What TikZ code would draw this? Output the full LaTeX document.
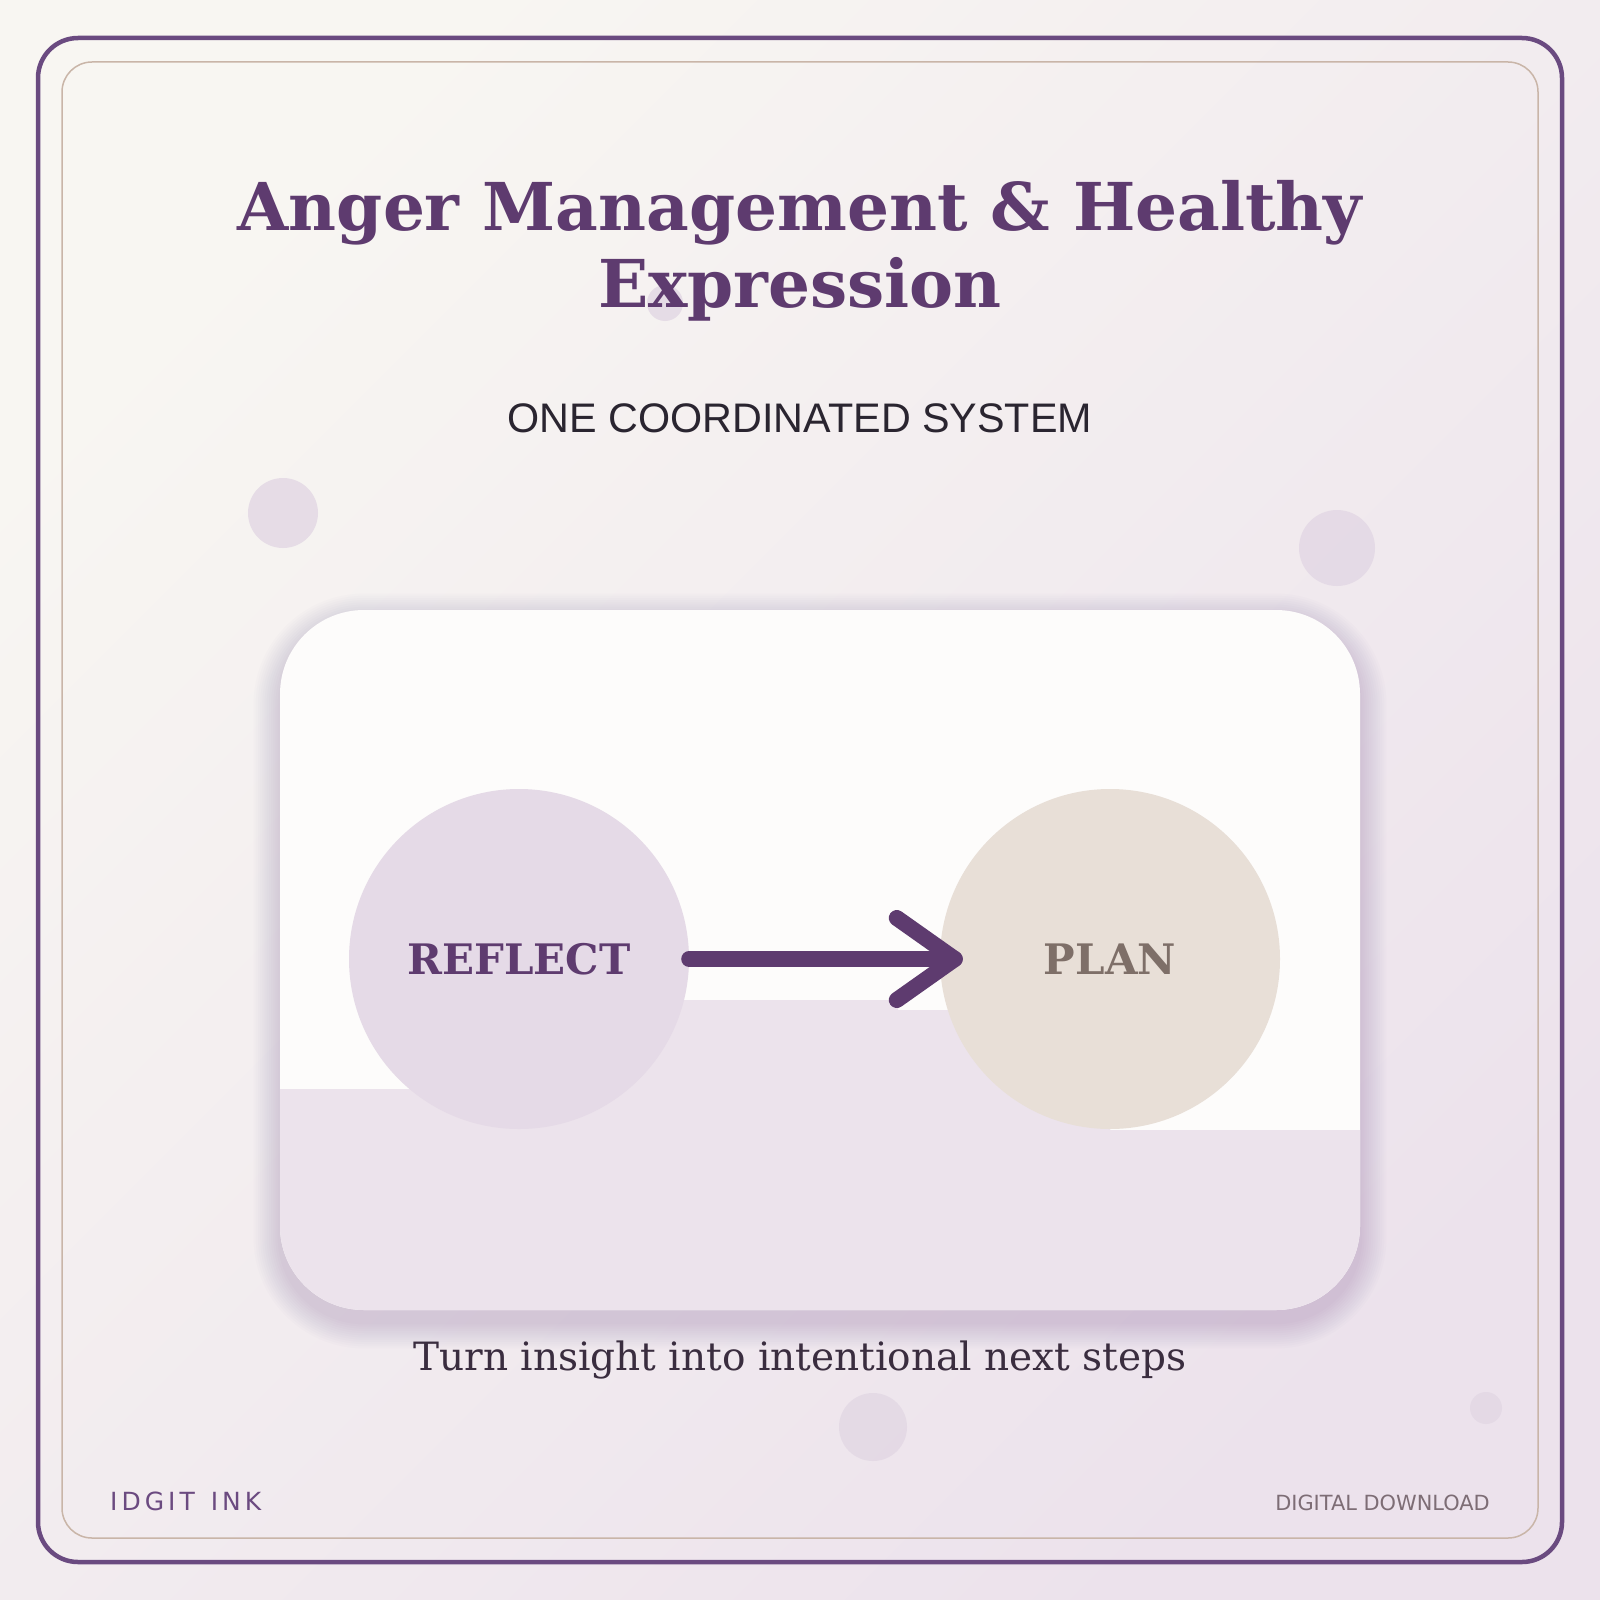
\documentclass[tikz,border=0pt]{standalone}
\usepackage{fontspec}
\setmainfont{DejaVu Serif}
\newfontfamily\dvsans{DejaVu Sans}
\newfontfamily\libsans{Liberation Sans}
\usetikzlibrary{calc}
\definecolor{bgA}{HTML}{F8F6F2}
\definecolor{bgB}{HTML}{ECE2EC}
\definecolor{outerc}{HTML}{6A4A80}
\definecolor{innerc}{HTML}{C9B5A8}
\definecolor{titlec}{HTML}{5E3B6F}
\definecolor{subc}{HTML}{2A2530}
\definecolor{dotc}{HTML}{E2D7E4}
\definecolor{cardc}{HTML}{FDFCFB}
\definecolor{bandc}{HTML}{ECE3EC}
\definecolor{reflc}{HTML}{E5DAE7}
\definecolor{planc}{HTML}{E8DFD7}
\definecolor{plantext}{HTML}{7E6F68}
\definecolor{capc}{HTML}{3A2D3F}
\definecolor{brandc}{HTML}{6B4A80}
\definecolor{dlc}{HTML}{7D6D75}
\definecolor{shadc}{HTML}{7A5A8C}
\tikzset{
  deco/.style={fill=dotc, opacity=0.8},
  stage/.style={circle, inner sep=0pt, minimum size=340pt, font=\bfseries\fontsize{42}{48}\selectfont},
  flow/.style={draw=titlec, line width=16pt, line cap=round, line join=round},
}
\begin{document}
\begin{tikzpicture}[x=1pt,y=-1pt]
\useasboundingbox (0,0) rectangle (1600,1600);
\shade[left color=bgA, right color=bgB, shading angle=45] (0,0) rectangle (1600,1600);
% frames
\draw[outerc, line width=4.5pt, rounded corners=40pt] (38,38) rectangle (1562,1562);
\draw[innerc, line width=1.5pt, rounded corners=30pt] (62,62) rectangle (1538,1538);
% decorative dots
\fill[deco] (665,303) circle (18);
\fill[deco] (283,513) circle (35);
\fill[deco] (1337,548) circle (38);
\fill[deco] (873,1427) circle (34);
\fill[deco] (1486,1408) circle (16);
% title
\node[anchor=base, text=titlec, font=\bfseries\fontsize{66}{79}\selectfont, inner sep=0] (t1) at (800,230) {Anger Management \& Healthy};
\node[anchor=base, text=titlec, font=\bfseries\fontsize{66}{79}\selectfont, inner sep=0] (t2) at (800,307) {Expression};
\node[anchor=base, text=subc, font=\libsans\fontsize{41.3}{48}\selectfont, inner sep=0] (sub) at (800,432) {ONE COORDINATED SYSTEM};
% card shadow
\foreach \i in {1,...,12}{
  \pgfmathsetmacro{\e}{2.2*\i}
  \pgfmathsetmacro{\r}{84+2.2*\i}
  \fill[shadc, opacity=0.018, rounded corners=\r pt] (280-\e,620-\e) rectangle (1360+\e,1322+\e);
}
% card
\fill[cardc, rounded corners=84pt] (280,610) rectangle (1360,1310);
\begin{scope}
  \clip[rounded corners=84pt] (280,610) rectangle (1360,1310);
  \fill[bandc] (270,1089) -- (519,1089) -- (519,1000) -- (898,1000) -- (898,1010) -- (1110,1010) -- (1110,1130) -- (1370,1130) -- (1370,1320) -- (270,1320) -- cycle;
\end{scope}
% stages
\node[stage, fill=reflc, text=titlec] (reflect) at (519,959) {REFLECT};
\node[stage, fill=planc, text=plantext] (plan) at (1110,959) {PLAN};
\coordinate (tip) at ($(plan.west)+(15,0)$);
\draw[flow] (reflect.east) -- (tip);
\draw[flow] ($(tip)+(-58,-41)$) -- (tip) -- ($(tip)+(-58,41)$);
% caption
\node[anchor=base, text=capc, font=\fontsize{39}{46}\selectfont, inner sep=0] (cap) at (800,1370) {Turn insight into intentional next steps};
% footer
\node[anchor=base west, text=brandc, font=\dvsans\fontsize{25}{30}\selectfont, inner sep=0] (brand) at (110,1510) {I\kern4pt D\kern4pt G\kern4pt I\kern4pt T\kern4pt\ \kern4pt I\kern4pt N\kern4pt K};
\node[anchor=base east, text=dlc, font=\dvsans\fontsize{20.9}{25}\selectfont, inner sep=0] (dl) at (1490,1510) {DIGITAL DOWNLOAD};
\end{tikzpicture}
\end{document}
